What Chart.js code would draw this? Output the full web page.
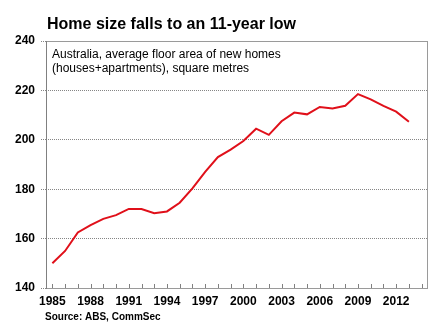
<!DOCTYPE html>
<html>
<head>
<meta charset="utf-8">
<script src="https://cdn.jsdelivr.net/npm/chart.js@4/dist/chart.umd.min.js"></script>
<style>
  html, body { margin: 0; padding: 0; background: #fff; }
  canvas { display: block; }
</style>
</head>
<body>
<canvas id="homeChart" width="440" height="328"></canvas>
<script>
// Jaren op de x-as (2014 blijft leeg, net als in het origineel)
const years = ['1985', '1986', '1987', '1988', '1989', '1990', '1991', '1992', '1993', '1994',
  '1995', '1996', '1997', '1998', '1999', '2000', '2001', '2002', '2003', '2004',
  '2005', '2006', '2007', '2008', '2009', '2010', '2011', '2012', '2013', '2014'];

// Gemiddelde vloeroppervlakte nieuwe woningen, m2
const floorArea = [150, 155, 162.5, 165.5, 168, 169.5, 172, 172, 170.3, 171,
  174.5, 180.3, 187, 193, 196, 199.5, 204.5, 202, 207.5, 211,
  210.3, 213.3, 212.7, 213.8, 218.5, 216.4, 213.7, 211.4, 207.3];

const yTicks = [140, 160, 180, 200, 220, 240];

const titleText = 'Home size falls to an 11-year low';
const noteLines = ['Australia, average floor area of new homes', '(houses+apartments), square metres'];
const sourceText = 'Source: ABS, CommSec';

const FONT = '"Liberation Sans", Arial, sans-serif';

// Titel, kader, tekst in het plotvlak en kleine tickstreepjes
const extras = {
  id: 'extras',
  beforeDatasetsDraw(chart) {
    const { ctx, chartArea: a } = chart;
    ctx.save();
    ctx.strokeStyle = '#9a9a9a';
    ctx.lineWidth = 1;
    ctx.strokeRect(a.left + 0.5, a.top + 0.5, a.right - a.left - 1, a.bottom - a.top);
    ctx.strokeStyle = '#808080';
    ctx.beginPath();
    ctx.moveTo(a.left + 0.5, a.top);
    ctx.lineTo(a.left + 0.5, a.bottom + 1);
    ctx.stroke();
    // inwaartse tickjes op de x-as
    const x = chart.scales.x;
    ctx.beginPath();
    years.forEach((y, i) => {
      const px = Math.round(x.getPixelForValue(i)) + 0.5;
      ctx.moveTo(px, a.bottom);
      ctx.lineTo(px, a.bottom - 4);
    });
    ctx.stroke();
    ctx.restore();
  },
  afterDraw(chart) {
    const { ctx, chartArea: a } = chart;
    ctx.save();
    ctx.fillStyle = '#000';
    ctx.textBaseline = 'alphabetic';
    ctx.textAlign = 'left';
    ctx.font = 'bold 16px ' + FONT;
    ctx.fillText(titleText, 47, 29);
    ctx.font = '12px ' + FONT;
    ctx.fillText(noteLines[0], a.left + 6, a.top + 17);
    ctx.fillText(noteLines[1], a.left + 6, a.top + 31);
    ctx.font = 'bold 10px ' + FONT;
    ctx.fillText(sourceText, 45, 320);
    ctx.restore();
  }
};

const config = {
  type: 'line',
  data: {
    labels: years,
    datasets: [{
      data: floorArea,
      borderColor: '#e0101a',
      borderWidth: 2,
      pointRadius: 0,
      tension: 0,
      fill: false
    }]
  },
  options: {
    responsive: false,
    animation: false,
    devicePixelRatio: 1,
    layout: {
      padding: { top: 41, right: 12, left: 0, bottom: 0 }
    },
    plugins: {
      legend: { display: false },
      tooltip: { enabled: false }
    },
    scales: {
      x: {
        type: 'category',
        offset: true,
        grid: { display: false, drawTicks: false },
        border: { display: false },
        ticks: {
          autoSkip: false,
          maxRotation: 0,
          padding: 6,
          color: '#000',
          font: { family: FONT, size: 12, weight: 'bold' },
          callback: function (v, i) {
            return (i % 3 === 0 && i < 28) ? years[i] : '';
          }
        },
        afterFit: function (scale) { scale.height = 40; }
      },
      y: {
        min: 140,
        max: 240,
        afterBuildTicks: function (scale) {
          scale.ticks = yTicks.map(v => ({ value: v }));
        },
        grid: {
          color: function (c) {
            return (c.tick && (c.tick.value === 140 || c.tick.value === 240)) ? 'rgba(0,0,0,0)' : '#858585';
          },
          tickColor: '#858585',
          tickBorderDash: [1, 1],
          tickLength: 5,
          lineWidth: 1
        },
        border: { display: false, dash: [1, 1] },
        ticks: {
          padding: 6,
          color: '#000',
          font: { family: FONT, size: 12, weight: 'bold' }
        },
        afterFit: function (scale) { scale.width = 46; }
      }
    }
  },
  plugins: [extras]
};

const homeChart = new Chart(document.getElementById('homeChart'), config);
</script>
</body>
</html>
